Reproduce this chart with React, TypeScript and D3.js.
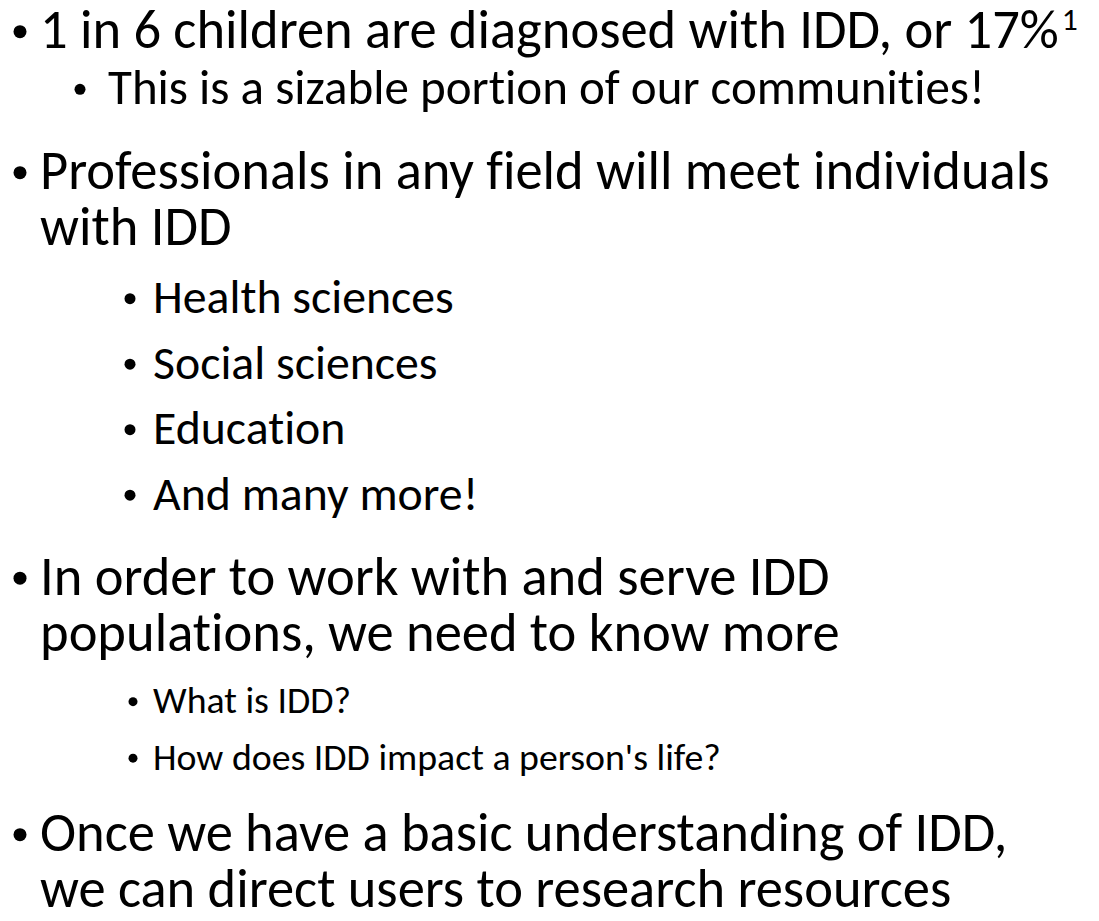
import { useRef, useEffect } from 'react';
import * as d3 from 'd3';

// slide bullets: level + wrapped lines
const paraLevels = ['a', 'b', 'a', 'c', 'c', 'c', 'c', 'a', 'd', 'd', 'a'];
const paraLines = [
  ['1 in 6 children are diagnosed with IDD, or 17%'],
  ['This is a sizable portion of our communities!'],
  ['Professionals in any field will meet individuals', 'with IDD'],
  ['Health sciences'],
  ['Social sciences'],
  ['Education'],
  ['And many more!'],
  ['In order to work with and serve IDD', 'populations, we need to know more'],
  ['What is IDD?'],
  ["How does IDD impact a person's life?"],
  ['Once we have a basic understanding of IDD,', 'we can direct users to research resources'],
];
const footnotes = ['1', '', '', '', '', '', '', '', '', '', ''];

const W = 1099, H = 921;
const FONT = 'Calibri, Carlito, Lato, sans-serif';

// per-level look: bullet centre, text x, font size, bullet radius, space before, leading
const levelStyle: Record<string, { bx: number; tx: number; size: number; r: number; gap: number; lead: number }> = {
  a: { bx: 20, tx: 40, size: 54.5, r: 6.5, gap: 31.5, lead: 56 },
  b: { bx: 80, tx: 108, size: 49, r: 5.5, gap: 2.5, lead: 51 },
  c: { bx: 130, tx: 153, size: 47.8, r: 5.5, gap: 14.5, lead: 51 },
  d: { bx: 133, tx: 153, size: 37.8, r: 4.5, gap: 12.5, lead: 44 },
};

export default function App() {
  const svgRef = useRef<SVGSVGElement>(null);

  useEffect(() => {
    if (!svgRef.current) return;
    const svg = d3.select(svgRef.current);
    svg.selectAll('*').remove();

    // baselines: cumulative advance from paragraph spacing + line leading
    const rows: { lvl: string; text: string; first: boolean; note: string; y: number }[] = [];
    let y = 48, prev = '';
    paraLines.forEach((lines, i) => {
      const lvl = paraLevels[i];
      const st = levelStyle[lvl];
      lines.forEach((t, j) => {
        if (rows.length) {
          y += j > 0 ? st.lead : levelStyle[prev].lead / 2 + st.lead / 2 + st.gap;
        }
        rows.push({ lvl, text: t, first: j === 0, note: j === lines.length - 1 ? footnotes[i] : '', y });
        prev = lvl;
      });
    });

    const g = svg.append('g').attr('font-family', FONT).attr('fill', '#000')
      .style('font-variant-ligatures', 'none');
    g.selectAll('circle.bul').data(rows.filter(r => r.first)).enter().append('circle')
      .attr('class', 'bul')
      .attr('cx', d => levelStyle[d.lvl].bx)
      .attr('cy', d => d.y - levelStyle[d.lvl].size * 0.3)
      .attr('r', d => levelStyle[d.lvl].r)
      .attr('fill', '#000');
    const tx = g.selectAll('text.line').data(rows).enter().append('text')
      .attr('class', 'line')
      .attr('x', d => levelStyle[d.lvl].tx)
      .attr('y', d => d.y)
      .attr('font-size', d => levelStyle[d.lvl].size);
    tx.append('tspan').text(d => d.text);
    tx.filter(d => !!d.note).append('tspan')
      .attr('dx', 3)
      .attr('dy', d => -levelStyle[d.lvl].size * 0.33)
      .attr('font-size', d => levelStyle[d.lvl].size * 0.58)
      .text(d => d.note);
  }, []);

  return (
    <div style={{ width: W, height: H, margin: -8, background: '#fff', overflow: 'hidden' }}>
      <svg ref={svgRef} width={W} height={H} viewBox={`0 0 ${W} ${H}`} style={{ display: 'block' }} />
    </div>
  );
}
